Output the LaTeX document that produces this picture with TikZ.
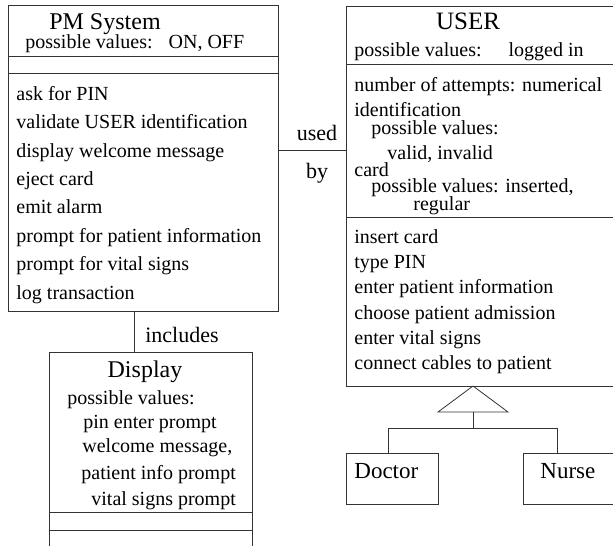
\documentclass[tikz,border=0pt]{standalone}
\usepackage{fontspec}
\setmainfont{Liberation Serif}
\begin{document}
\begin{tikzpicture}[x=1pt,y=-1pt,line width=0.8pt,
  box/.style={draw=black!80,inner sep=0pt,outer sep=0pt},
  rule/.style={draw=black!80},
  txt/.style={anchor=mid west,inner sep=0pt,font=\fontsize{20}{24}\selectfont},
  ttl/.style={anchor=mid,inner sep=0pt,font=\fontsize{24}{28}\selectfont},
  lbl/.style={anchor=mid,inner sep=0pt,font=\fontsize{22}{26}\selectfont},
  sub/.style={anchor=mid west,inner sep=0pt,font=\fontsize{23}{27}\selectfont}]
\useasboundingbox (0,0) rectangle (613,546);
\clip (0,0) rectangle (613,546);

% class boxes
\node[box,minimum width=270pt,minimum height=306pt] (pm) at (143,158) {};
\node[box,minimum width=284pt,minimum height=380pt] (user) at (488,196) {};
\node[box,minimum width=203pt,minimum height=218pt] (disp) at (150.5,461) {};
\node[box,minimum width=92pt,minimum height=51pt] (doctor) at (392,478.5) {};
\node[box,minimum width=107pt,minimum height=51pt] (nurse) at (576.5,478.5) {};

% compartment rules
\draw[rule] (pm.west |- 0,56) -- (pm.east |- 0,56);
\draw[rule] (pm.west |- 0,73) -- (pm.east |- 0,73);
\draw[rule] (user.west |- 0,64) -- (user.east |- 0,64);
\draw[rule] (user.west |- 0,217) -- (user.east |- 0,217);
\draw[rule] (disp.west |- 0,512) -- (disp.east |- 0,512);
\draw[rule] (disp.west |- 0,530) -- (disp.east |- 0,530);

% PM System
\node[ttl] (pmtitle) at (105,27) {PM System};
\node[txt] (pmvals) at (25,46) {possible values:\hspace{16pt}ON, OFF};
\node[txt] (pm1) at (16,98) {ask for PIN};
\node[txt] (pm2) at (16,126.4) {validate USER identification};
\node[txt] (pm3) at (16,154.8) {display welcome message};
\node[txt] (pm4) at (16,183.2) {eject card};
\node[txt] (pm5) at (16,211.6) {emit alarm};
\node[txt] (pm6) at (16,240) {prompt for patient information};
\node[txt] (pm7) at (16,268.4) {prompt for vital signs};
\node[txt] (pm8) at (16,296.8) {log transaction};

% USER
\node[ttl,font=\fontsize{25}{29}\selectfont] (usertitle) at (468,27) {USER};
\node[txt] (uvals) at (354,54) {possible values:\hspace{27pt}logged in};
\node[txt] (ua1) at (354,89) {number of attempts: numerical};
\node[txt] (ua2) at (354,114) {identification};
\node[txt] (ua3) at (371,132) {possible values:};
\node[txt] (ua4) at (387,157) {valid, invalid};
\node[txt] (ua5) at (354,174) {card};
\node[txt] (ua6) at (371,190) {possible values: inserted,};
\node[txt] (ua7) at (413,208) {regular};
\node[txt] (uo1) at (354,241) {insert card};
\node[txt] (uo2) at (354,266) {type PIN};
\node[txt] (uo3) at (354,291) {enter patient information};
\node[txt] (uo4) at (354,317) {choose patient admission};
\node[txt] (uo5) at (354,342) {enter vital signs};
\node[txt] (uo6) at (354,367) {connect cables to patient};

% Display
\node[ttl] (disptitle) at (145,375) {Display};
\node[txt] (dv0) at (67,402) {possible values:};
\node[txt] (dv1) at (83,426) {pin enter prompt};
\node[txt] (dv2) at (82,450) {welcome message,};
\node[txt] (dv3) at (81,477) {patient info prompt};
\node[txt] (dv4) at (91,503) {vital signs prompt};

% subclasses
\node[sub] (doctext) at (354,476) {Doctor};
\node[sub] (nursetext) at (540,476) {Nurse};

% associations
\draw[rule] (pm.east |- 0,150) -- (user.west |- 0,150);
\node[lbl] (used) at (317,138) {used};
\node[lbl] (by) at (317,176) {by};
\draw[rule] (pm.south -| 134,0) -- (disp.north -| 134,0);
\node[lbl] (incl) at (182,340) {includes};

% generalisation
\coordinate (apex) at (user.south -| 473,0);
\coordinate (tbase) at (473,412);
\coordinate (fork) at (473,428);
\draw[rule,line join=miter] (apex) -- (438,412) -- (508,412) -- cycle;
\draw[rule] (tbase) -- (fork);
\draw[rule] (doctor.north -| 388,0) -- (388,428) -- (557,428) -- (nurse.north -| 557,0);
\end{tikzpicture}
\end{document}
